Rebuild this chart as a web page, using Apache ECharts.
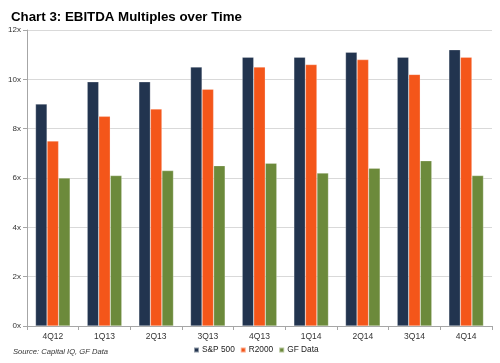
<!DOCTYPE html>
<html><head><meta charset="utf-8">
<script src="https://cdn.jsdelivr.net/npm/echarts@6/dist/echarts.min.js"></script>
<style>html,body{margin:0;padding:0;background:#fff}#c{width:500px;height:363px}</style>
</head><body><div id="c"></div>
<script>
const categories = ['4Q12','1Q13','2Q13','3Q13','4Q13','1Q14','2Q14','3Q14','4Q14'];
const sp500 = [9.0, 9.9, 9.9, 10.5, 10.9, 10.9, 11.1, 10.9, 11.2];
const r2000 = [7.5, 8.5, 8.8, 9.6, 10.5, 10.6, 10.8, 10.2, 10.9];
const gfData = [6.0, 6.1, 6.3, 6.5, 6.6, 6.2, 6.4, 6.7, 6.1];
const seriesNames = ['S&P 500', 'R2000', 'GF Data'];
const colors = ['#22344F', '#F4561A', '#6C8A3B'];

const chart = echarts.init(document.getElementById('c'));
const font = 'Liberation Sans, Arial, sans-serif';
chart.setOption({
  animation: false,
  title: [{
    text: 'Chart 3: EBITDA Multiples over Time', left: 6, top: 6,
    textStyle: {fontFamily: font, fontSize: 13.3, fontWeight: 'bold', color: '#000'}
  }, {
    text: 'Source: Capital IQ, GF Data', left: 8, top: 343,
    textStyle: {fontFamily: font, fontSize: 7.6, fontStyle: 'italic', fontWeight: 'normal', color: '#333'}
  }],
  legend: {
    data: seriesNames, left: 188, top: 341, itemWidth: 5, itemHeight: 5, itemGap: 5,
    icon: 'rect',
    textStyle: {fontFamily: font, fontSize: 8.3, color: '#222', padding: [0,0,0,-2]}
  },
  grid: {left: 27, right: 8, top: 30, bottom: 37},
  xAxis: {
    type: 'category', data: categories,
    axisLine: {lineStyle: {color: '#a6a6a6'}},
    axisTick: {show: true, length: 4, lineStyle: {color: '#a6a6a6'}},
    axisLabel: {fontFamily: font, fontSize: 8.5, color: '#333', margin: 6}
  },
  yAxis: {
    type: 'value', min: 0, max: 12, interval: 2,
    axisLine: {show: true, lineStyle: {color: '#a6a6a6'}},
    axisTick: {show: true, length: 4, lineStyle: {color: '#a6a6a6'}},
    splitLine: {lineStyle: {color: '#d9d9d9'}},
    axisLabel: {fontFamily: font, fontSize: 8, color: '#333', margin: 6, formatter: v => v + 'x'}
  },
  series: [sp500, r2000, gfData].map((d, i) => ({
    name: seriesNames[i], type: 'bar', data: d, barGap: '0%', barCategoryGap: '33%',
    itemStyle: {color: colors[i], borderColor: 'rgba(255,255,255,0.5)', borderWidth: 0.5}
  }))
});
</script></body></html>
